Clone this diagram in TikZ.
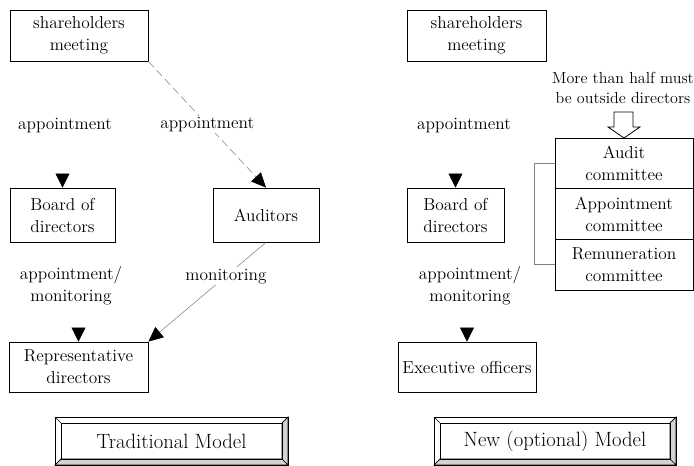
\documentclass[tikz,border=0pt]{standalone}
\usetikzlibrary{arrows.meta}
\tikzset{
  box/.style={draw, line width=.6pt, align=center, inner sep=0pt},
  lbl/.style={align=center, inner sep=1pt, text=black},
  tri/.style={-{Triangle[length=10.5pt,width=10.5pt]}},
  bevel/.style={fill=gray!35, draw=black, line width=.5pt}
}
\begin{document}
\begin{tikzpicture}[x=0.75pt, y=-0.75pt, font=\fontsize{13}{16.5}\selectfont]
\useasboundingbox (0,0) rectangle (694,466);

% traditional model
\node[box, minimum width=103.5pt, minimum height=38.25pt] (sm1) at (79,35.5) {shareholders\\meeting};
\node[box, minimum width=78.75pt, minimum height=40.5pt] (bd1) at (62.5,215) {Board of\\directors};
\node[box, minimum width=79.5pt, minimum height=40.5pt] (aud) at (266,215) {Auditors};
\node[box, minimum width=104.25pt, minimum height=37.5pt] (rd) at (78.5,367) {Representative\\directors};

\node[lbl] (ap1) at (65,126) {appointment};
\node[lbl] (am1) at (71,286) {appointment/\\monitoring};
\draw[tri] ([yshift=10.5pt]bd1.north) -- (bd1.north);
\draw[tri] ([yshift=10.5pt]rd.north) -- (rd.north);

\draw[gray, dash pattern=on 6pt off 3pt, -{Triangle[length=11pt,width=10pt,black]}] (sm1.south east) -- node[lbl, fill=white, pos=.5] (ap2) {appointment} (aud.north);
\draw[gray, -{Triangle[length=11pt,width=10pt,black]}] (aud.south) -- node[lbl, fill=white, pos=.34] (mo) {monitoring} (rd.north east);

% bevelled title frame
\draw[bevel] (288,417) -- (288,465) -- (282,459) -- (282,423) -- cycle;
\draw[bevel] (55,465) -- (288,465) -- (282,459) -- (61,459) -- cycle;
\draw[line width=.5pt] (55,417) rectangle (288,465) (61,423) rectangle (282,459);
\draw[line width=.5pt] (55,417) -- (61,423) (55,465) -- (61,459) (288,417) -- (282,423);
\node[font=\fontsize{15.5}{18}\selectfont] (tm) at (171.5,441) {Traditional Model};

% new (optional) model
\node[box, minimum width=104.25pt, minimum height=38.25pt] (sm2) at (476.5,35.5) {shareholders\\meeting};
\node[box, minimum width=72.75pt, minimum height=40.5pt] (bd2) at (455.5,215) {Board of\\directors};
\node[box, minimum width=103.5pt, minimum height=37.5pt] (eo) at (467,367) {Executive officers};
\node[box, minimum width=103.5pt, minimum height=38pt] (ac) at (624,163.3) {Audit\\committee};
\node[box, minimum width=103.5pt, minimum height=38pt] (pc) at (624,214) {Appointment\\committee};
\node[box, minimum width=103.5pt, minimum height=38pt] (rc) at (624,264.7) {Remuneration\\committee};

\node[lbl] (ap3) at (464,126) {appointment};
\node[lbl] (am2) at (470,286) {appointment/\\monitoring};
\node[lbl, font=\fontsize{12}{15}\selectfont] (half) at (623,88) {More than half must\\be outside directors};
\draw[tri] ([yshift=10.5pt]bd2.north) -- (bd2.north);
\draw[tri] ([yshift=10.5pt]eo.north) -- (eo.north);

\draw[line width=.6pt, fill=white] (614,112) -- (633,112) -- (633,127) -- (640,127) -- (624,138) -- (608,127) -- (614,127) -- cycle;
\draw[gray, line width=.6pt] (ac.west) -- ++(-20,0) |- (rc.west);

\draw[bevel] (676,417) -- (676,465) -- (670,459) -- (670,423) -- cycle;
\draw[bevel] (434,465) -- (676,465) -- (670,459) -- (440,459) -- cycle;
\draw[line width=.5pt] (434,417) rectangle (676,465) (440,423) rectangle (670,459);
\draw[line width=.5pt] (434,417) -- (440,423) (434,465) -- (440,459) (676,417) -- (670,423);
\node[font=\fontsize{15.5}{18}\selectfont] (nm) at (555,441) {New (optional) Model};
\end{tikzpicture}
\end{document}
